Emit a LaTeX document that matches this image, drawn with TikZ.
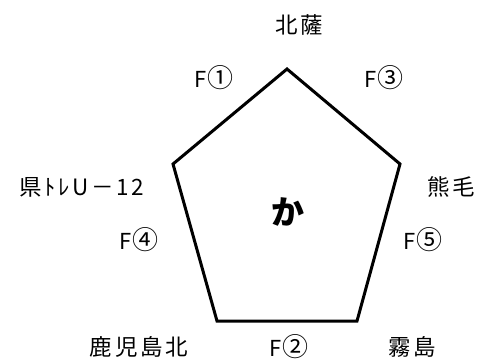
\documentclass[tikz,border=0pt]{standalone}
\usepackage{fontspec}
\setmainfont{Noto Sans CJK JP}
\newfontfamily\spaced[LetterSpace=12]{Noto Sans CJK JP}
\newcommand\circd[1]{{\fontsize{26}{26}\selectfont#1}}
\usetikzlibrary{arrows}

\begin{document}
\begin{tikzpicture}[x=1pt,y=-1pt,
    lbl/.style={font=\spaced\fontsize{22.5}{22.5}\selectfont,inner sep=0pt},
    flbl/.style={font=\fontsize{22}{22}\selectfont,inner sep=0pt},
    side/.style={line width=3pt,line join=miter}]
      \useasboundingbox (0,0) rectangle (481,362);
      \coordinate (top) at (287,69);
      \coordinate (lft) at (173,164);
      \coordinate (rgt) at (400,164);
      \coordinate (bl) at (217,321);
      \coordinate (br) at (357,321);
      \draw[side] (top) -- (rgt) -- (br) -- (bl) -- (lft) -- cycle;
      \node[font=\fontsize{33}{33}\selectfont\bfseries,inner sep=0pt] (ka) at (288,212) {か};
      \node[lbl] (hokusatsu) at (299,25) {北薩};
      \node[flbl] (f1) at (214,78) {F\circd{①}};
      \node[flbl] (f3) at (384,78) {F\circd{③}};
      \node[lbl] (kentore) at (82,187) {県ﾄﾚU－12};
      \node[lbl] (kumage) at (451,187) {熊毛};
      \node[flbl] (f4) at (139,240) {F\circd{④}};
      \node[flbl] (f5) at (423,240) {F\circd{⑤}};
      \node[lbl] (kagoshima) at (139,347) {鹿児島北};
      \node[flbl] (f2) at (289,347) {F\circd{②}};
      \node[lbl] (kirishima) at (412,347) {霧島};
\end{tikzpicture}
\end{document}
